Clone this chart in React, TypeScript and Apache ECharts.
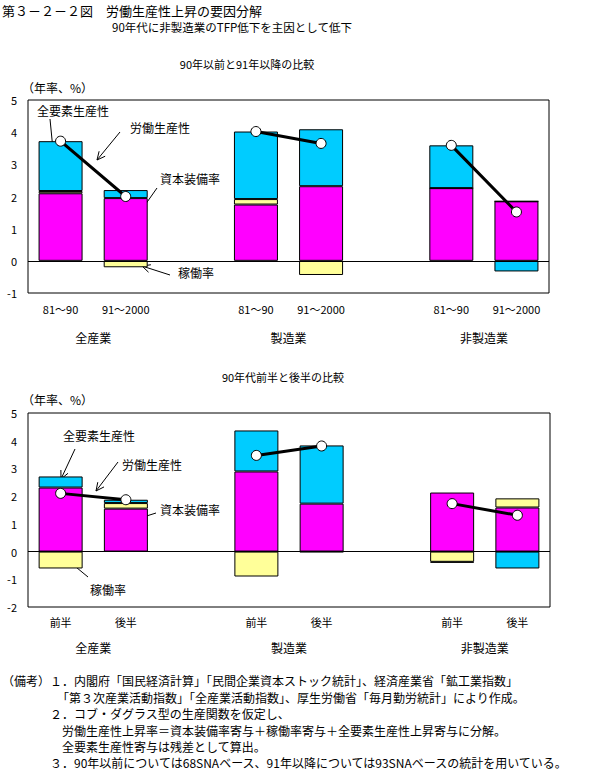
import React, { useEffect, useRef } from "react";
import * as echarts from "echarts";

// ---- data ----
const categoriesA = ["81～90", "91～2000", "", "81～90", "91～2000", "", "81～90", "91～2000"];
const categoriesB = ["前半", "後半", "", "前半", "後半", "", "前半", "後半"];
const groups = ["全産業", "製造業", "非製造業"];

// chart A: 90年以前と91年以降
const capitalA = [2.10, 1.95, null, 1.75, 2.32, null, 2.26, 1.85];
const operationA = [0.07, -0.20, null, 0.17, -0.44, null, 0, 0];
const tfpA = [1.55, 0.25, null, 2.10, 1.77, null, 1.33, -0.33];
const laborA = [3.72, 2.00, null, 4.02, 3.65, null, 3.59, 1.52];

// chart B: 90年代前半と後半
const capitalB = [2.31, 1.55, null, 2.89, 1.73, null, 2.13, 1.59];
const operationB = [-0.61, 0.20, null, -0.90, -0.02, null, -0.37, 0.33];
const tfpB = [0.40, 0.12, null, 1.48, 2.10, null, -0.03, -0.61];
const laborB = [2.10, 1.87, null, 3.47, 3.81, null, 1.73, 1.31];

const yRangeA = [-1, 5];
const yRangeB = [-2, 5];

const seriesNames = ["資本装備率", "稼働率", "全要素生産性", "労働生産性"];

const headerTitle = "第３－２－２図　労働生産性上昇の要因分解";
const subTitle = "90年代に非製造業のTFP低下を主因として低下";
const chartTitleA = "90年以前と91年以降の比較";
const chartTitleB = "90年代前半と後半の比較";
const unitLabel = "（年率、%）";
const notes = [
  "（備考）１．内閣府「国民経済計算」「民間企業資本ストック統計」、経済産業省「鉱工業指数」",
  "「第３次産業活動指数」「全産業活動指数」、厚生労働省「毎月勤労統計」により作成。",
  "２．コブ・ダグラス型の生産関数を仮定し、",
  "労働生産性上昇率＝資本装備率寄与＋稼働率寄与＋全要素生産性上昇寄与に分解。",
  "全要素生産性寄与は残差として算出。",
  "３．90年以前については68SNAベース、91年以降については93SNAベースの統計を用いている。",
];

// ---- styling ----
const FONT = '"Noto Sans CJK JP", "Noto Sans CJK SC", sans-serif';
const MAGENTA = "#FF00FF";
const YELLOW = "#FFFF99";
const CYAN = "#00CCFF";

function text(str: string, x: number, y: number, size = 12, align = "left") {
  return {
    type: "text",
    x,
    y,
    silent: true,
    style: {
      text: str,
      fill: "#000",
      font: `${size}px ${FONT}`,
      textAlign: align,
      textVerticalAlign: "middle",
      align,
      verticalAlign: "middle",
    },
  };
}

function arrow(x1: number, y1: number, x2: number, y2: number) {
  const ang = Math.atan2(y2 - y1, x2 - x1);
  const len = 9;
  const spread = 0.45;
  const a1 = ang + Math.PI - spread;
  const a2 = ang + Math.PI + spread;
  return {
    type: "group",
    silent: true,
    children: [
      { type: "line", shape: { x1, y1, x2, y2 }, style: { stroke: "#000", lineWidth: 1 } },
      {
        type: "polyline",
        shape: {
          points: [
            [x2 + len * Math.cos(a1), y2 + len * Math.sin(a1)],
            [x2, y2],
            [x2 + len * Math.cos(a2), y2 + len * Math.sin(a2)],
          ],
        },
        style: { stroke: "#000", lineWidth: 1, fill: "none" },
      },
    ],
  };
}

function buildSeries(idx: number, cap: any[], op: any[], tfp: any[], lab: any[]) {
  const bar = (name: string, data: any[], color: string) => ({
    name,
    type: "bar",
    stack: "s" + idx,
    xAxisIndex: idx * 2,
    yAxisIndex: idx,
    data,
    barWidth: 44,
    itemStyle: { color, borderColor: "#000", borderWidth: 1 },
    z: 2,
  });
  return [
    bar(seriesNames[0], cap, MAGENTA),
    bar(seriesNames[1], op, YELLOW),
    bar(seriesNames[2], tfp, CYAN),
    {
      name: seriesNames[3],
      type: "line",
      xAxisIndex: idx * 2,
      yAxisIndex: idx,
      data: lab,
      connectNulls: false,
      symbol: "circle",
      symbolSize: 10,
      lineStyle: { color: "#000", width: 3 },
      itemStyle: { color: "#fff", borderColor: "#000", borderWidth: 1 },
      z: 5,
      markLine: {
        silent: true,
        symbol: "none",
        label: { show: false },
        lineStyle: { color: "#000", width: 1, type: "solid" },
        data: [{ yAxis: 0 }],
        z: 3,
      },
    },
  ];
}

export default function App() {
  const ref = useRef<HTMLDivElement>(null);
  useEffect(() => {
    if (!ref.current) return;
    const chart = echarts.init(ref.current, null, { renderer: "svg" });
    const grids = [
      { left: 28, top: 100, width: 521, height: 193 },
      { left: 28, top: 413, width: 522, height: 194 },
    ].map((g) => ({
      ...g,
      show: true,
      borderColor: "#000",
      borderWidth: 1,
      backgroundColor: "transparent",
      containLabel: false,
      outerBoundsMode: "none",
    }));

    const catAxis = (gi: number, data: string[], margin: number) => ({
      type: "category",
      gridIndex: gi,
      data,
      position: "bottom",
      axisLine: { show: false },
      axisTick: { show: false },
      axisLabel: { interval: 0, margin, color: "#000", fontSize: 11, fontFamily: FONT },
      splitLine: { show: false },
    });
    const groupAxis = (gi: number, offset: number) => ({
      type: "value",
      gridIndex: gi,
      min: 0,
      max: 8,
      interval: 1,
      position: "bottom",
      offset,
      axisLine: { show: false },
      axisTick: { show: false },
      splitLine: { show: false },
      axisLabel: {
        margin: 10,
        color: "#000",
        fontSize: 12,
        fontFamily: FONT,
        formatter: (v: number) => (v === 1 ? groups[0] : v === 4 ? groups[1] : v === 7 ? groups[2] : ""),
      },
    });
    const valAxis = (gi: number, range: number[]) => ({
      type: "value",
      gridIndex: gi,
      min: range[0],
      max: range[1],
      interval: 1,
      axisLine: { show: false },
      axisTick: { show: false },
      splitLine: { show: false },
      axisLabel: { margin: 11, color: "#000", fontSize: 11, fontFamily: FONT },
    });

    const graphic: any[] = [
      text(headerTitle, 2, 10, 13),
      text(subTitle, 232, 27, 11.5, "center"),
      text(chartTitleA, 247, 64, 11, "center"),
      text(chartTitleB, 283, 377, 11, "center"),
      text(unitLabel, 22, 87, 12),
      text(unitLabel, 22, 399, 12),
      // chart A annotations
      text(seriesNames[2], 37, 110, 12),
      arrow(50, 119, 54, 160),
      text(seriesNames[3], 130, 127, 12),
      arrow(120, 132, 97, 160),
      text(seriesNames[0], 160, 178, 12),
      arrow(157, 188, 138, 215),
      text(seriesNames[1], 178, 272, 12),
      arrow(170, 275, 142, 266),
      // chart B annotations
      text(seriesNames[2], 63, 435, 12),
      arrow(75, 449, 61, 479),
      text(seriesNames[3], 122, 464, 12),
      arrow(118, 462, 96, 491),
      text(seriesNames[0], 160, 509, 12),
      arrow(156, 513, 137, 519),
      text(seriesNames[1], 90, 589, 12),
      arrow(88, 577, 65, 558),
      // notes
      text(notes[0], 2, 680, 12),
      text(notes[1], 57, 697, 12),
      text(notes[2], 50, 713, 12),
      text(notes[3], 62, 730, 12),
      text(notes[4], 62, 746, 12),
      text(notes[5], 50, 762, 12),
    ];

    chart.setOption({
      animation: false,
      textStyle: { fontFamily: FONT },
      grid: grids,
      xAxis: [
        catAxis(0, categoriesA, 10),
        groupAxis(0, 28),
        catAxis(1, categoriesB, 9),
        groupAxis(1, 24),
      ],
      yAxis: [valAxis(0, yRangeA), valAxis(1, yRangeB)],
      series: [
        ...buildSeries(0, capitalA, operationA, tfpA, laborA),
        ...buildSeries(1, capitalB, operationB, tfpB, laborB),
      ],
      graphic,
    });
    return () => chart.dispose();
  }, []);
  return (
    <div
      ref={ref}
      style={{ position: "absolute", left: 0, top: 0, width: 598, height: 769, background: "#fff" }}
    />
  );
}
